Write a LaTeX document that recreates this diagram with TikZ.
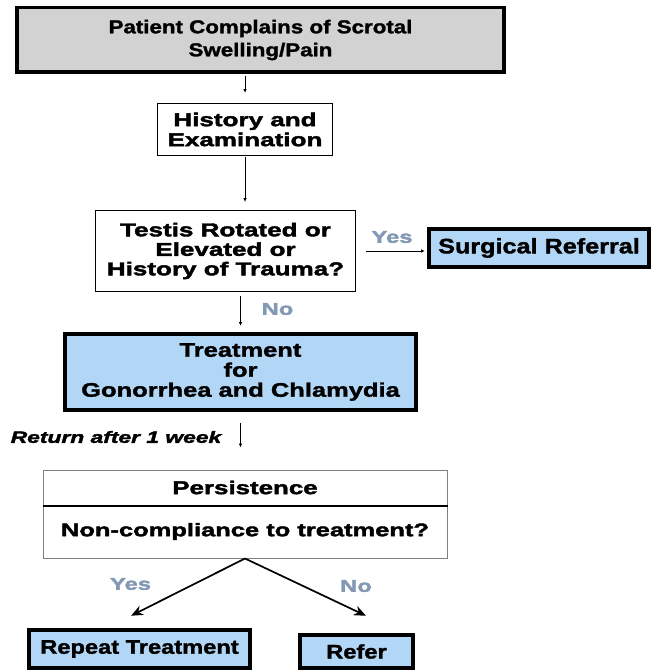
\documentclass[tikz,border=0pt]{standalone}
\usepackage{fontspec}
\setmainfont{Liberation Sans}
\newfontfamily\flowA[FakeStretch=1.2,FakeBold=1.6]{Liberation Sans}
\newfontfamily\flowB[FakeStretch=1.3,FakeBold=1.6]{Liberation Sans}
\newfontfamily\flowC[FakeStretch=1.4,FakeBold=2.2]{Liberation Sans}
\usetikzlibrary{arrows.meta,calc,positioning}
\definecolor{boxgray}{RGB}{210,210,210}
\definecolor{boxblue}{RGB}{178,214,245}
\definecolor{answer}{RGB}{130,152,180}

\begin{document}
\begin{tikzpicture}[x=1pt,y=-1pt,
    box/.style={draw,inner sep=0pt,align=center},
    greybox/.style={box,fill=boxgray,line width=3.5pt},
    plainbox/.style={box,fill=white,line width=1.4pt},
    bluebox/.style={box,fill=boxblue,line width=4pt},
    cellbox/.style={box,draw=gray,line width=1pt},
    answer/.style={text=answer,font={\flowC\fontsize{17}{20}\selectfont\bfseries}},
    flow/.style={-{Latex[length=4pt,width=3.5pt]},line width=1pt},
    branch/.style={-{Stealth[length=12pt,width=10pt]},line width=1.7pt}]
\useasboundingbox (0,0) rectangle (651,671);

\node[greybox,minimum width=487,minimum height=64.5,
      font={\flowA\fontsize{18.6}{23}\selectfont\bfseries}] (top) at (260.5,40)
      {Patient Complains of Scrotal\\Swelling/Pain};
\node[plainbox,minimum width=174.5,minimum height=51.5,
      font={\flowC\fontsize{18.6}{20}\selectfont\bfseries}] (hist) at (245,129.5)
      {History and\\Examination};
\node[plainbox,minimum width=259.5,minimum height=80.5,
      font={\flowC\fontsize{18.6}{19.5}\selectfont\bfseries}] (test) at (225.5,251)
      {Testis Rotated or\\Elevated or\\History of Trauma?};
\node[bluebox,minimum width=220,minimum height=38,
      font={\flowA\fontsize{21}{24}\selectfont\bfseries}] (surg) at (539,248)
      {Surgical Referral};
\node[bluebox,minimum width=351,minimum height=76,
      font={\flowB\fontsize{19.6}{20}\selectfont\bfseries}] (treat) at (240.5,372)
      {Treatment\\for\\Gonorrhea and Chlamydia};
\node[cellbox,minimum width=404,minimum height=35,
      font={\flowC\fontsize{18.5}{21}\selectfont\bfseries}] (pers) at (245,487.5)
      {Persistence};
\node[cellbox,minimum width=404,minimum height=53,
      font={\flowC\fontsize{18.2}{21}\selectfont\bfseries}] (query) at (245,531.5)
      {Non-compliance to treatment?};
\draw[line width=2pt] (pers.south west) -- (pers.south east);
\node[bluebox,minimum width=221.5,minimum height=38.5,
      font={\flowA\fontsize{19.7}{22}\selectfont\bfseries}] (repeat) at (139.5,649)
      {Repeat Treatment};
\node[bluebox,minimum width=113.5,minimum height=33.5,
      font={\flowA\fontsize{19.7}{22}\selectfont\bfseries}] (refer) at (356.5,651.5)
      {Refer};

% answers and notes
\node[answer] (yesA) at (392,237) {Yes};
\node[answer] (noA) at (277.5,309) {No};
\node[answer] (yesB) at (130.5,584) {Yes};
\node[answer] (noB) at (356,586) {No};
\node[font={\flowC\fontsize{16.3}{19}\selectfont\bfseries\itshape}] (ret) at (116,437)
      {Return after 1 week};

% connectors
\draw[flow,shorten <=2pt,shorten >=10pt] (hist.north |- top.south) -- (hist.north);
\draw[flow,shorten <=1pt,shorten >=8pt] (hist.south) -- (hist.south |- test.north);
\draw[flow,shorten <=10pt,shorten >=2pt] (test.east) -- (test.east -| surg.west);
\draw[flow,shorten <=4pt,shorten >=6pt] (test.south -| treat.north) -- (treat.north);
\draw[flow,shorten <=11pt,shorten >=22pt] (treat.south) -- (treat.south |- pers.north);
\draw[branch] (query.south) -- ([xshift=-8.5pt,yshift=12pt]repeat.north);
\draw[branch] (query.south) -- ([xshift=9.5pt,yshift=17pt]refer.north);
\end{tikzpicture}
\end{document}
